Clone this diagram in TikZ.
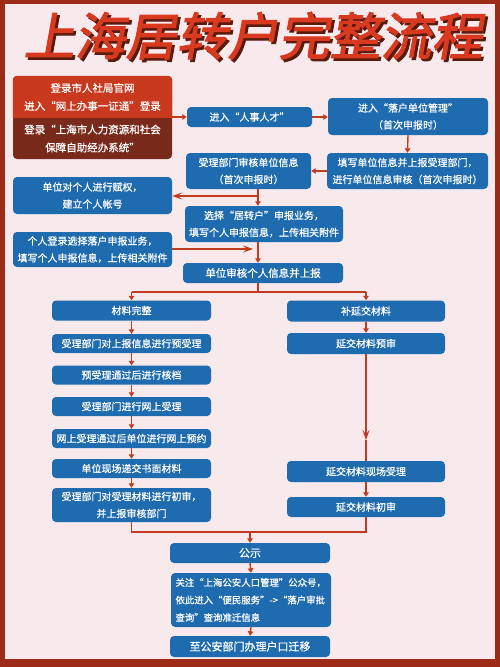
\documentclass[tikz,border=0pt]{standalone}
\usepackage{fontspec}
\newfontfamily\cjk[FakeBold=0.8]{Noto Sans CJK SC}
\newfontfamily\cjktitle[FakeSlant=0.18,FakeBold=2]{Noto Sans CJK SC}
\usetikzlibrary{arrows.meta,calc}
\definecolor{bluebox}{RGB}{30,107,176}
\definecolor{loginred}{RGB}{200,57,30}
\definecolor{loginbrown}{RGB}{122,42,27}
\definecolor{titlered}{RGB}{216,57,31}
\definecolor{titleshadow}{RGB}{90,27,15}
\definecolor{framered}{RGB}{156,43,23}
\definecolor{bgpink}{RGB}{248,234,236}
\definecolor{arrowred}{RGB}{193,59,30}
\newcommand{\titletext}{上海居转户完整流程}
\begin{document}
\begin{tikzpicture}[x=1pt,y=-1pt,
  box/.style={fill=bluebox, rounded corners=4pt, text=white, font=\cjk\fontsize{10}{17}\selectfont, align=center, inner sep=0pt, minimum height=19pt},
  txt/.style={text=white, font=\cjk\fontsize{10.5}{18}\selectfont, align=center, inner sep=0pt},
  ln/.style={draw=arrowred, line width=1.4pt},
  big/.style={ln, -{Stealth[length=10pt,width=7pt,inset=4pt]}},
  sm/.style={ln, -{Triangle[length=4.5pt,width=5.5pt]}},
]
\useasboundingbox (0,0) rectangle (500,667);
\fill[framered] (0,0) rectangle (500,667);
\fill[bgpink] (5,4) rectangle (495,659);

% title (with drop shadow in the same text)
\node[font=\cjktitle\fontsize{51}{51}\selectfont, text=titlered, inner sep=0pt] (title) at (253,37)
  {\rlap{\kern2.5pt\raisebox{-2.5pt}{\color{titleshadow}\titletext}}\titletext};

% login box
\node[fill=loginbrown, rounded corners=4pt, minimum width=159pt, minimum height=83pt, inner sep=0pt] (login) at (92.5,117.5) {};
\begin{scope}
  \clip (login.north west) rectangle (login.east);
  \fill[loginred, rounded corners=4pt] (login.north west) rectangle (login.south east);
\end{scope}
\node[txt] (l1) at (92.5,97) {登录市人社局官网\\进入“网上办事一证通”登录};
\node[txt] (l2) at (92.5,138.5) {登录“上海市人力资源和社会\\保障自助经办系统”};

% upper flow
\node[box, minimum width=125pt, minimum height=20pt] (n2) at (249.5,117) {进入“人事人才”};
\node[box, minimum width=160pt, minimum height=37pt] (n3) at (408,116.5) {进入“落户单位管理”\\（首次申报时）};
\node[box, minimum width=161pt, minimum height=36pt] (n4) at (407.5,171) {填写单位信息并上报受理部门，\\进行单位信息审核（首次申报时）};
\node[box, minimum width=125pt, minimum height=36pt] (n5) at (248.5,171) {受理部门审核单位信息\\（首次申报时）};
\node[box, minimum width=159pt, minimum height=37pt] (n6) at (92.5,195.5) {单位对个人进行赋权，\\建立个人帐号};
\node[box, minimum width=158pt, minimum height=36pt] (n7) at (264,224) {选择“居转户”申报业务，\\填写个人申报信息，上传相关附件};
\node[box, minimum width=159pt, minimum height=35pt] (n8) at (92.5,249.5) {个人登录选择落户申报业务，\\填写个人申报信息，上传相关附件};
\node[box, minimum width=160pt, minimum height=20pt, font=\cjk\fontsize{10.5}{17}\selectfont] (n9) at (263,273) {单位审核个人信息并上报};

% left column
\node[box, minimum width=159pt, minimum height=20pt] (n10) at (131.5,310.5) {材料完整};
\node[box, minimum width=159pt] (n12) at (131.5,343.5) {受理部门对上报信息进行预受理};
\node[box, minimum width=159pt] (n13) at (131.5,375) {预受理通过后进行核档};
\node[box, minimum width=159pt] (n14) at (131.5,406.5) {受理部门进行网上受理};
\node[box, minimum width=159pt] (n15) at (131.5,438.5) {网上受理通过后单位进行网上预约};
\node[box, minimum width=159pt] (n16) at (131.5,468.5) {单位现场递交书面材料};
\node[box, minimum width=159pt, minimum height=34pt] (n17) at (131.5,505) {受理部门对受理材料进行初审，\\并上报审核部门};

% right column
\node[box, minimum width=158pt, minimum height=21pt] (n11) at (366,311) {补延交材料};
\node[box, minimum width=158pt, minimum height=21pt] (n18) at (366,343.5) {延交材料预审};
\node[box, minimum width=158pt, minimum height=21pt] (n19) at (366,471.5) {延交材料现场受理};
\node[box, minimum width=158pt, minimum height=20pt] (n20) at (366,507) {延交材料初审};

% bottom
\node[box, minimum width=160pt, minimum height=20pt, font=\cjk\fontsize{11}{17}\selectfont] (n21) at (250,553) {公示};
\node[box, minimum width=160pt, minimum height=54pt, text width=151pt, align=left, font=\cjk\fontsize{9.4}{17.5}\selectfont] (n22) at (251,600) {关注“上海公安人口管理”公众号，\\依此进入“便民服务”->“落户审批\\查询”查询准迁信息};
\node[box, minimum width=160pt, minimum height=21pt, font=\cjk\fontsize{11}{17}\selectfont] (n23) at (250,646.5) {至公安部门办理户口迁移};

% connectors upper
\draw[sm] (login.east |- n2.west) -- (n2.west);
\draw[sm] (n2.east) -- (n3.west |- n2.east);
\draw[sm] (n3.south) -- (n4.north);
\draw[sm] (n4.west) -- (n5.east);
\coordinate (vx) at (258,0);
\coordinate (j1) at (258,196);
\draw[ln] (n5.south -| vx) -- (j1);
\draw[big] (j1) -- (n6.east |- j1);
\draw[sm] (j1) -- (n7.north -| vx);
\coordinate (j2) at (253,249);
\draw[big] (n8.east |- j2) -- (j2);
\draw[sm] (n7.south -| vx) -- (n9.north -| vx);

% branch
\coordinate (j3) at (258,292);
\draw[ln] (n9.south -| vx) -- (j3);
\draw[ln] (n10.north |- j3) -- (n11.north |- j3);
\draw[sm] (n10.north |- j3) -- (n10.north);
\draw[sm] (n11.north |- j3) -- (n11.north);

% left chain
\draw[sm] (n10.south) -- (n12.north);
\draw[sm] (n12.south) -- (n13.north);
\draw[sm] (n13.south) -- (n14.north);
\draw[sm] (n14.south) -- (n15.north);
\draw[sm] (n15.south) -- (n16.north);
\draw[sm] (n16.south) -- (n17.north);

% right chain
\draw[sm] (n11.south) -- (n18.north);
\coordinate (mid) at (366,440);
\draw[big] (n18.south) -- (mid);
\draw[ln] (mid) -- (n19.north);
\draw[sm] (n19.south) -- (n20.north);

% merge
\coordinate (j4) at (250,532);
\draw[ln] (n17.south) -- (n17.south |- j4) -- (n20.south |- j4) -- (n20.south);
\draw[sm] (j4) -- (n21.north);
\draw[sm] (n21.south) -- (n22.north);
\draw[sm] (n22.south) -- (n23.north);
\end{tikzpicture}
\end{document}
